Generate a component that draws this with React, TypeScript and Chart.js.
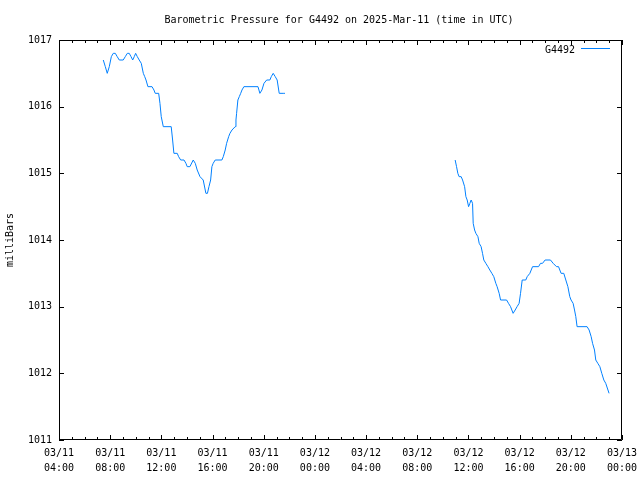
import React, { useEffect, useRef } from "react";
import { Chart, registerables } from "chart.js";

Chart.register(...registerables);

const titleText = "Barometric Pressure for G4492 on 2025-Mar-11 (time in UTC)";
const seriesLabel = "G4492";
const yAxisLabel = "milliBars";

// hours since 2025-03-11 00:00 UTC
const hours: number[] = [
  7.46, 7.62, 7.77, 7.93, 8.09, 8.24, 8.4, 8.55, 8.71, 9.02, 9.18, 9.34, 9.49, 9.63, 9.76, 9.88, 9.99,
  10.12, 10.27, 10.43, 10.59, 10.7, 10.8, 10.95, 11.27, 11.42, 11.52, 11.79, 11.89, 11.99, 12.15, 12.77,
  12.88, 12.98, 13.24, 13.35, 13.51, 13.77, 13.92, 14.02, 14.23, 14.49, 14.65, 14.8, 15.02, 15.27, 15.48,
  15.6, 15.72, 15.85, 15.95, 16.05, 16.21, 16.73, 16.84, 16.99, 17.1, 17.26, 17.36, 17.52, 17.77, 17.83,
  17.88, 17.98, 18.09, 18.2, 18.3, 18.45, 19.55, 19.7, 19.86, 20.02, 20.23, 20.48, 20.59, 20.74, 20.9,
  21.05, 21.21, 21.52, 21.66,
  28.0,
  34.96, 35.07, 35.17, 35.27, 35.43, 35.54, 35.7, 35.8, 35.9, 36.01, 36.11, 36.21, 36.32, 36.37, 36.48,
  36.58, 36.74, 36.84, 36.99, 37.1, 37.2, 37.36, 37.52, 37.67, 37.83, 37.98, 38.14, 38.24, 38.4, 38.51,
  38.98, 39.13, 39.29, 39.49, 39.65, 39.8, 39.96, 40.07, 40.2, 40.48, 40.59, 40.8, 41.01, 41.48, 41.63,
  41.79, 41.99, 42.41, 42.62, 42.88, 43.04, 43.24, 43.45, 43.61, 43.77, 43.92, 44.02, 44.18, 44.29, 44.39,
  44.49, 45.27, 45.43, 45.59, 45.7, 45.85, 45.95, 46.11, 46.27, 46.42, 46.58, 46.73, 46.99,
];

const pressure: (number | null)[] = [
  1016.7, 1016.6, 1016.5, 1016.6, 1016.75, 1016.8, 1016.8, 1016.75, 1016.7, 1016.7, 1016.75, 1016.8, 1016.8,
  1016.75, 1016.7, 1016.75, 1016.8, 1016.75, 1016.7, 1016.65, 1016.5, 1016.45, 1016.4, 1016.3, 1016.3,
  1016.25, 1016.2, 1016.2, 1016.05, 1015.85, 1015.7, 1015.7, 1015.5, 1015.3, 1015.3, 1015.25, 1015.2,
  1015.2, 1015.15, 1015.1, 1015.1, 1015.2, 1015.15, 1015.05, 1014.95, 1014.9, 1014.7, 1014.7, 1014.8,
  1014.9, 1015.1, 1015.15, 1015.2, 1015.2, 1015.25, 1015.35, 1015.45, 1015.55, 1015.6, 1015.65, 1015.7,
  1015.8, 1015.9, 1016.1, 1016.15, 1016.2, 1016.25, 1016.3, 1016.3, 1016.2, 1016.25, 1016.35, 1016.4,
  1016.4, 1016.45, 1016.5, 1016.45, 1016.4, 1016.2, 1016.2, 1016.2,
  null,
  1015.2, 1015.1, 1015.0, 1014.95, 1014.95, 1014.9, 1014.8, 1014.65, 1014.6, 1014.5, 1014.55, 1014.6,
  1014.55, 1014.25, 1014.15, 1014.1, 1014.05, 1013.95, 1013.9, 1013.8, 1013.7, 1013.65, 1013.6, 1013.55,
  1013.5, 1013.45, 1013.35, 1013.3, 1013.2, 1013.1, 1013.1, 1013.05, 1013.0, 1012.9, 1012.95, 1013.0,
  1013.05, 1013.2, 1013.4, 1013.4, 1013.45, 1013.5, 1013.6, 1013.6, 1013.65, 1013.65, 1013.7, 1013.7,
  1013.65, 1013.6, 1013.6, 1013.5, 1013.5, 1013.4, 1013.3, 1013.15, 1013.1, 1013.05, 1012.95, 1012.85,
  1012.7, 1012.7, 1012.65, 1012.55, 1012.45, 1012.35, 1012.2, 1012.15, 1012.1, 1012.0, 1011.9, 1011.85,
  1011.7,
];

const xMin = 4;
const xMax = 48;
const xMajorStep = 4;
const yMin = 1011;
const yMax = 1017;

const FONT = "'DejaVu Sans Mono', monospace";

function tickLabel(h: number): string[] {
  const day = 11 + Math.floor(h / 24);
  const hh = h % 24;
  return [`03/${String(day).padStart(2, "0")}`, `${String(hh).padStart(2, "0")}:00`];
}

const framePlugin = {
  id: "frameTicks",
  afterDraw(chart: any) {
    const { ctx, chartArea } = chart;
    const { left, right, top, bottom } = chartArea;
    const xs = chart.scales.x;
    const ys = chart.scales.y;
    ctx.save();
    ctx.strokeStyle = "#000";
    ctx.lineWidth = 1;
    ctx.beginPath();
    ctx.rect(left + 0.5, top + 0.5, right - left - 1, bottom - top - 1);
    for (let h = xMin; h <= xMax; h++) {
      const px = Math.round(xs.getPixelForValue(h)) + 0.5;
      const len = h % xMajorStep === 0 ? 5 : 3;
      ctx.moveTo(px, bottom);
      ctx.lineTo(px, bottom - len);
      ctx.moveTo(px, top);
      ctx.lineTo(px, top + len);
    }
    for (let v = yMin; v <= yMax; v++) {
      const py = Math.round(ys.getPixelForValue(v)) + 0.5;
      ctx.moveTo(left, py);
      ctx.lineTo(left + 5, py);
      ctx.moveTo(right, py);
      ctx.lineTo(right - 5, py);
    }
    ctx.stroke();

    ctx.fillStyle = "#000";
    ctx.font = `10px ${FONT}`;
    ctx.textAlign = "center";
    ctx.textBaseline = "middle";
    ctx.fillText(titleText, 339, 20);

    const ds = chart.data.datasets[0];
    ctx.textAlign = "right";
    ctx.fillText(ds.label, 575, 50);
    ctx.strokeStyle = ds.borderColor;
    ctx.beginPath();
    ctx.moveTo(581, 48.5);
    ctx.lineTo(610, 48.5);
    ctx.stroke();
    ctx.restore();
  },
};

export default function App() {
  const ref = useRef<HTMLCanvasElement | null>(null);
  useEffect(() => {
    document.body.style.margin = "0";
    const canvas = ref.current;
    if (!canvas) return;
    const points = hours.map((h, i) => ({ x: h, y: pressure[i] }));
    const chart = new Chart(canvas, {
      type: "line",
      data: {
        datasets: [
          {
            label: seriesLabel,
            data: points as any,
            borderColor: "#0080ff",
            borderWidth: 1,
            pointRadius: 0,
            tension: 0,
            spanGaps: false,
            fill: false,
          },
        ],
      },
      options: {
        animation: false,
        responsive: false,
        events: [],
        layout: { padding: { top: 40, right: 18, left: 0, bottom: 0 } },
        plugins: {
          legend: { display: false },
          title: { display: false },
          tooltip: { enabled: false },
        },
        scales: {
          x: {
            type: "linear",
            min: xMin,
            max: xMax,
            grid: { display: false, drawTicks: false },
            border: { display: false },
            ticks: {
              stepSize: xMajorStep,
              autoSkip: false,
              maxRotation: 0,
              padding: 6,
              color: "#000",
              font: { family: FONT, size: 10, lineHeight: 1.5 },
              callback: (v: any) => tickLabel(Number(v)),
            },
            afterFit: (s: any) => {
              s.height = 40;
              s.paddingLeft = 0;
              s.paddingRight = 0;
            },
          },
          y: {
            min: yMin,
            max: yMax,
            grid: { display: false, drawTicks: false },
            border: { display: false },
            ticks: {
              stepSize: 1,
              padding: 7,
              color: "#000",
              font: { family: FONT, size: 10 },
              callback: (v: any) => String(v),
            },
            title: {
              display: true,
              text: yAxisLabel,
              color: "#000",
              font: { family: FONT, size: 10 },
              padding: { top: 4, bottom: 0 },
            },
            afterFit: (s: any) => {
              s.width = 59;
              s.paddingTop = 0;
              s.paddingBottom = 0;
            },
          },
        },
      },
      plugins: [framePlugin],
    });
    return () => chart.destroy();
  }, []);
  return (
    <div style={{ width: 640, height: 480, background: "#fff" }}>
      <canvas ref={ref} width={640} height={480} />
    </div>
  );
}
